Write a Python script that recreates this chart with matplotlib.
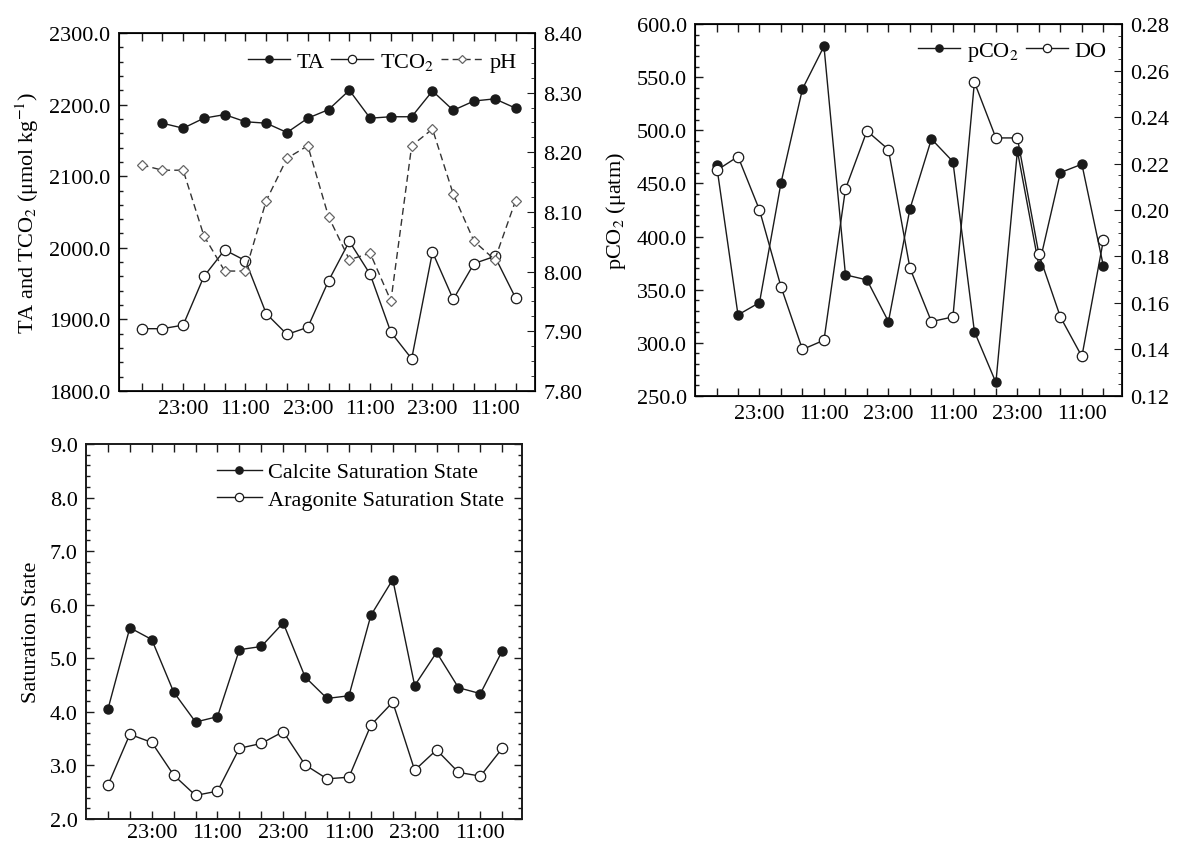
import matplotlib
matplotlib.use('Agg')
import matplotlib.pyplot as plt
from matplotlib.ticker import MultipleLocator, FormatStrFormatter

# Sampling times, one sample every 4 hours
times = ['15:00', '19:00', '23:00', '03:00', '07:00', '11:00'] * 3 + ['15:00']
shown_labels = ['23:00', '11:00']

# Carbonate system (TA starts one sample later than the others)
ta = [2174, 2167, 2181, 2186, 2176, 2174, 2161, 2181, 2193, 2220,
      2181, 2183, 2183, 2219, 2192, 2205, 2208, 2195]
tco2 = [1887, 1887, 1892, 1960, 1997, 1982, 1908, 1879, 1889, 1954,
        2009, 1963, 1882, 1845, 1994, 1928, 1978, 1988, 1930]
ph = [8.179, 8.170, 8.170, 8.060, 8.001, 8.001, 8.119, 8.190, 8.211, 8.092,
      8.020, 8.031, 7.951, 8.211, 8.239, 8.130, 8.051, 8.020, 8.119]

# pCO2 (uatm) and DO
pco2 = [467.7, 326.3, 337.9, 450.5, 538.9, 579.0, 364.0, 359.2, 320.0, 426.0,
        491.8, 470.5, 310.6, 262.7, 480.6, 372.4, 460.2, 468.1, 372.4]
do = [0.217, 0.223, 0.200, 0.167, 0.140, 0.144, 0.209, 0.234, 0.226, 0.175,
      0.152, 0.154, 0.255, 0.231, 0.231, 0.181, 0.154, 0.137, 0.187]

# Saturation states
calcite = [4.05, 5.57, 5.35, 4.37, 3.81, 3.91, 5.16, 5.22, 5.66, 4.65,
           4.25, 4.30, 5.80, 6.47, 4.49, 5.11, 4.45, 4.34, 5.14]
aragonite = [2.63, 3.58, 3.43, 2.82, 2.44, 2.52, 3.32, 3.41, 3.63, 3.01,
             2.75, 2.78, 3.75, 4.18, 2.91, 3.29, 2.87, 2.80, 3.32]

plt.rcParams['font.family'] = ['Liberation Serif', 'DejaVu Serif']
plt.rcParams['mathtext.fontset'] = 'stix'
fontsize = 16
line_color = '#1a1a1a'

x = list(range(len(times)))
xlabels = [t if t in shown_labels else '' for t in times]


def style_axis(ax, xlim):
    '''Inward ticks on every side, one tick per sample'''
    ax.set_xlim(xlim)
    ax.set_xticks(x)
    ax.set_xticklabels(xlabels)
    ax.tick_params(axis='both', which='both', direction='in',
                   labelsize=fontsize, width=1.0, color=line_color)
    ax.tick_params(axis='both', which='major', length=6, pad=6)
    ax.tick_params(axis='both', which='minor', length=3)
    ax.tick_params(axis='x', top=True)
    for spine in ax.spines.values():
        spine.set_linewidth(1.4)
        spine.set_color(line_color)


fig = plt.figure(figsize=(11.8, 8.45), dpi=100)

# ---- Top left: TA, TCO2 and pH
ax1 = fig.add_axes([0.1008, 0.5361, 0.3525, 0.4237])
l_ta, = ax1.plot(x[1:], ta, '-o', color=line_color, lw=1.0, ms=6.5,
                 mfc=line_color, mec=line_color, label='TA')
l_tco2, = ax1.plot(x, tco2, '-o', color=line_color, lw=1.0, ms=7.5,
                   mfc='white', mec=line_color, mew=0.9, label='TCO$_2$')
ax1.set_ylim(1800, 2300)
ax1.yaxis.set_major_locator(MultipleLocator(100))
ax1.yaxis.set_minor_locator(MultipleLocator(20))
ax1.yaxis.set_major_formatter(FormatStrFormatter('%.1f'))
style_axis(ax1, (-1.09, 18.93))
ax1.tick_params(axis='y', right=False, which='both')
ax1.set_ylabel('TA and TCO$_2$ (μmol kg$^{-1}$)', fontsize=fontsize, labelpad=6)

ax1b = ax1.twinx()
l_ph, = ax1b.plot(x, ph, '--D', color='#333333', lw=1.0, ms=5.5,
                  mfc='white', mec='#666666', mew=0.9, dashes=(5, 3),
                  label='pH')
ax1b.set_ylim(7.80, 8.40)
ax1b.yaxis.set_major_locator(MultipleLocator(0.1))
ax1b.yaxis.set_minor_locator(MultipleLocator(0.025))
ax1b.yaxis.set_major_formatter(FormatStrFormatter('%.2f'))
ax1b.tick_params(axis='y', which='both', direction='in', labelsize=fontsize,
                 color=line_color)
ax1b.tick_params(axis='y', which='major', length=6, pad=6)
ax1b.tick_params(axis='y', which='minor', length=3)

ax1b.legend(handles=[l_ta, l_tco2, l_ph], loc='upper right', ncol=3,
            frameon=False, fontsize=fontsize, handlelength=1.9,
            handletextpad=0.3, columnspacing=0.3, markerscale=0.8,
            borderaxespad=0.4)

# ---- Top right: pCO2 and DO
ax2 = fig.add_axes([0.589, 0.5302, 0.3619, 0.4402])
l_pco2, = ax2.plot(x, pco2, '-o', color=line_color, lw=1.0, ms=6.5,
                   mfc=line_color, mec=line_color, label='pCO$_2$')
ax2.set_ylim(250, 600)
ax2.yaxis.set_major_locator(MultipleLocator(50))
ax2.yaxis.set_minor_locator(MultipleLocator(10))
ax2.yaxis.set_major_formatter(FormatStrFormatter('%.1f'))
style_axis(ax2, (-1.0, 18.87))
ax2.tick_params(axis='y', right=False, which='both')
ax2.set_ylabel('pCO$_2$ (μatm)', fontsize=fontsize, labelpad=6)

ax2b = ax2.twinx()
l_do, = ax2b.plot(x, do, '-o', color=line_color, lw=1.0, ms=7.5,
                  mfc='white', mec=line_color, mew=0.9, label='DO')
ax2b.set_ylim(0.12, 0.28)
ax2b.yaxis.set_major_locator(MultipleLocator(0.02))
ax2b.yaxis.set_minor_locator(MultipleLocator(0.005))
ax2b.yaxis.set_major_formatter(FormatStrFormatter('%.2f'))
ax2b.tick_params(axis='y', which='both', direction='in', labelsize=fontsize,
                 color=line_color)
ax2b.tick_params(axis='y', which='major', length=6, pad=6)
ax2b.tick_params(axis='y', which='minor', length=3)

ax2b.legend(handles=[l_pco2, l_do], loc='upper right', ncol=2,
            frameon=False, fontsize=fontsize, handlelength=1.9,
            handletextpad=0.3, columnspacing=0.3, markerscale=0.8,
            borderaxespad=0.3)

# ---- Bottom: saturation states
ax3 = fig.add_axes([0.0729, 0.0296, 0.3695, 0.4438])
ax3.plot(x, calcite, '-o', color=line_color, lw=1.0, ms=6.5,
         mfc=line_color, mec=line_color, label='Calcite Saturation State')
ax3.plot(x, aragonite, '-o', color=line_color, lw=1.0, ms=7.5,
         mfc='white', mec=line_color, mew=0.9,
         label='Aragonite Saturation State')
ax3.set_ylim(2.0, 9.0)
ax3.yaxis.set_major_locator(MultipleLocator(1.0))
ax3.yaxis.set_minor_locator(MultipleLocator(0.2))
ax3.yaxis.set_major_formatter(FormatStrFormatter('%.1f'))
style_axis(ax3, (-1.0, 18.9))
ax3.tick_params(axis='y', right=True, which='both')
ax3.tick_params(axis='x', pad=3)
ax3.set_ylabel('Saturation State', fontsize=fontsize, labelpad=6)
ax3.legend(loc='upper right', frameon=False, fontsize=fontsize,
           handlelength=2.0, handletextpad=0.3, markerscale=0.8,
           labelspacing=0.3, borderaxespad=0.4)

fig.savefig('out.png', dpi=100)
